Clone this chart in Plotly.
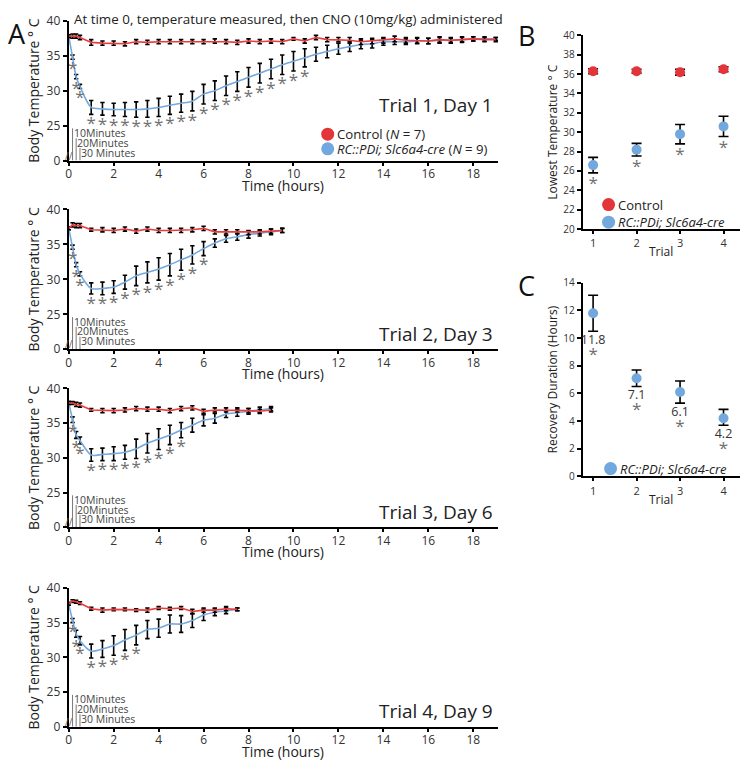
import plotly.graph_objects as go

W, H = 750, 768
FONT = "Open Sans"
RED = "#ec3b3b"
BLUE = "#74a9dc"
DOT_RED = "#e3343a"
DOT_BLUE = "#72a8dd"
AST = "#707070"

# ---------------- data: panel A (time courses) ----------------
t1 = [0, 0.17, 0.33, 0.5, 1, 1.5, 2, 2.5, 3, 3.5, 4, 4.5, 5, 5.5, 6, 6.5, 7, 7.5, 8, 8.5,
      9, 9.5, 10, 10.5, 11, 11.5, 12, 12.5, 13, 13.5, 14, 14.5, 15, 15.5, 16, 16.5, 17, 17.5,
      18, 18.5, 19]
ctrl1 = [37.8, 37.8, 37.8, 37.6, 36.9, 36.8, 36.8, 36.7, 37.0, 36.9, 37.0, 37.0, 37.0, 37.0,
         37.0, 37.1, 37.0, 36.9, 37.1, 37.0, 37.1, 37.0, 37.4, 37.1, 37.6, 37.3, 37.3, 37.2,
         37.0, 37.1, 37.2, 37.4, 37.2, 37.2, 37.1, 37.3, 37.2, 37.3, 37.4, 37.3, 37.3]
ctrl1_err = [0.2, 0.3, 0.3, 0.3, 0.4, 0.3, 0.3, 0.3, 0.3, 0.3, 0.3, 0.3, 0.3, 0.3, 0.3, 0.3,
             0.3, 0.3, 0.3, 0.3, 0.3, 0.3, 0.2, 0.3, 0.3, 0.3, 0.3, 0.4, 0.4, 0.4, 0.4, 0.4,
             0.4, 0.4, 0.4, 0.4, 0.4, 0.4, 0.3, 0.3, 0.3]
pdi1 = [37.8, 34.8, 32.0, 30.6, 27.6, 27.4, 27.3, 27.3, 27.3, 27.4, 27.6, 27.9, 28.2, 28.5,
        29.5, 30.0, 30.7, 31.3, 31.9, 32.5, 33.1, 33.7, 34.2, 34.7, 35.2, 35.6, 36.0, 36.3,
        36.6, 36.7, 37.0, 37.0, 37.0, 37.1, 37.1, 37.2, 37.2, 37.3, 37.4, 37.4, 37.4]
pdi1_err = [0.2, 0.3, 0.3, 0.3, 1.0, 0.9, 0.9, 1.0, 1.1, 1.2, 1.3, 1.3, 1.3, 1.4, 1.4, 1.4,
            1.4, 1.4, 1.4, 1.4, 1.4, 1.4, 1.4, 1.3, 1.0, 0.9, 0.8, 0.7, 0.6, 0.6, 0.5, 0.4,
            0.4, 0.4, 0.4, 0.4, 0.3, 0.3, 0.3, 0.3, 0.2]
sig1_last = 10.5

t2 = [0, 0.17, 0.33, 0.5, 1, 1.5, 2, 2.5, 3, 3.5, 4, 4.5, 5, 5.5, 6, 6.5, 7, 7.5, 8, 8.5,
      9, 9.5]
ctrl2 = [37.3, 37.8, 37.7, 37.7, 37.1, 37.1, 37.0, 37.2, 36.9, 37.2, 37.0, 37.0, 37.0, 37.1,
         37.3, 36.8, 36.8, 36.8, 36.7, 36.8, 36.9, 37.0]
ctrl2_err = [0.2, 0.3, 0.3, 0.3, 0.2, 0.3, 0.3, 0.3, 0.3, 0.3, 0.3, 0.3, 0.3, 0.3, 0.3, 0.3,
             0.3, 0.3, 0.3, 0.3, 0.3, 0.3]
pdi2 = [37.3, 34.6, 32.1, 30.8, 28.7, 28.7, 28.9, 29.6, 30.5, 31.0, 31.5, 32.1, 32.8, 33.5,
        34.4, 35.2, 35.8, 36.1, 36.4, 36.6, 36.8, 37.0]
pdi2_err = [0.2, 0.3, 0.3, 0.3, 0.8, 0.9, 0.9, 1.0, 1.4, 1.5, 1.6, 1.6, 1.5, 1.3, 1.0, 0.6,
            0.5, 0.5, 0.5, 0.4, 0.4, 0.3]
sig2_last = 6.0

t3 = [0, 0.17, 0.33, 0.5, 1, 1.5, 2, 2.5, 3, 3.5, 4, 4.5, 5, 5.5, 6, 6.5, 7, 7.5, 8, 8.5, 9]
ctrl3 = [37.9, 37.9, 37.7, 37.6, 36.9, 36.8, 36.8, 36.9, 37.1, 37.0, 37.0, 36.8, 37.1, 37.2,
         36.7, 36.9, 36.9, 36.9, 36.8, 36.7, 36.9]
ctrl3_err = [0.2, 0.2, 0.3, 0.3, 0.2, 0.3, 0.3, 0.3, 0.3, 0.3, 0.3, 0.3, 0.3, 0.3, 0.3, 0.3,
             0.3, 0.3, 0.3, 0.3, 0.3]
pdi3 = [37.9, 35.5, 33.3, 32.5, 30.4, 30.5, 30.6, 30.8, 31.3, 32.1, 32.7, 33.3, 34.0, 34.7,
        35.4, 35.7, 36.3, 36.5, 36.7, 36.9, 37.1]
pdi3_err = [0.2, 0.4, 0.5, 0.5, 0.9, 0.9, 1.0, 1.0, 1.4, 1.4, 1.5, 1.4, 1.1, 1.0, 0.8, 0.7,
            0.5, 0.5, 0.4, 0.4, 0.3]
sig3_last = 5.0

t4 = [0, 0.17, 0.33, 0.5, 1, 1.5, 2, 2.5, 3, 3.5, 4, 4.5, 5, 5.5, 6, 6.5, 7, 7.5]
ctrl4 = [37.7, 38.1, 38.0, 37.8, 37.0, 36.8, 36.9, 36.9, 36.8, 36.8, 37.1, 37.0, 37.1, 36.6,
         36.8, 36.8, 37.0, 36.9]
ctrl4_err = [0.2, 0.2, 0.2, 0.2, 0.2, 0.3, 0.2, 0.2, 0.2, 0.3, 0.2, 0.2, 0.2, 0.3, 0.3, 0.3,
             0.3, 0.2]
pdi4 = [37.7, 35.3, 33.4, 32.4, 30.9, 31.2, 31.7, 32.5, 33.2, 34.0, 34.2, 34.8, 34.8, 35.3,
        36.1, 36.5, 36.7, 36.9]
pdi4_err = [0.2, 0.3, 0.5, 0.6, 1.0, 1.2, 1.4, 1.5, 1.4, 1.3, 1.3, 1.3, 1.2, 1.0, 0.8, 0.5,
            0.4, 0.2]
sig4_last = 3.0

trial_labels = ["Trial 1, Day 1", "Trial 2, Day 3", "Trial 3, Day 6", "Trial 4, Day 9"]
time_ticks = [0, 2, 4, 6, 8, 10, 12, 14, 16, 18]
temp_tickvals = [20, 25, 30, 35, 40]
temp_ticktext = ["0", "25", "30", "35", "40"]
minute_labels = ["10Minutes", "20Minutes", "30 Minutes"]

# ---------------- data: panel B (lowest temperature) ----------------
trials = [1, 2, 3, 4]
ctrl_low = [36.3, 36.3, 36.2, 36.5]
ctrl_low_err = [0.25, 0.2, 0.3, 0.25]
pdi_low = [26.6, 28.2, 29.8, 30.6]
pdi_low_err = [0.8, 0.65, 1.0, 1.05]

# ---------------- data: panel C (recovery duration) ----------------
recovery = [11.8, 7.1, 6.1, 4.2]
recovery_err_plus = [1.3, 0.6, 0.8, 0.65]
recovery_err_minus = [1.3, 0.6, 0.8, 0.5]

# ---------------- helpers ----------------
def xdom(a, b):
    return [a / W, b / W]

def ydom(top, bottom):
    return [1 - bottom / H, 1 - top / H]

def px(x):
    return x / W

def py(y):
    return 1 - y / H

axis_common = dict(showline=True, linecolor="black", linewidth=2, ticks="outside",
                   ticklen=4, tickwidth=1.5, tickcolor="black", showgrid=False,
                   zeroline=False, tickfont=dict(family=FONT, size=12, color="#333"))

A_X = (66, 497)
A_RANGE = [0, 19.1]
A_Y = [(12, 155), (205, 348), (388, 530), (592, 734)]
B_X = (582, 740)
BC_RANGE = [0.76, 4.38]
B_Y = (27, 225)
C_Y = (280, 478)

fig = go.Figure()
layout = dict(width=W, height=H, margin=dict(l=0, r=0, t=0, b=0), autosize=False,
              paper_bgcolor="white", plot_bgcolor="white", showlegend=False,
              font=dict(family=FONT, color="#222"))
annotations = []
shapes = []

def add_text(x, y, text, size, color="#222", xanchor="center", yanchor="middle", **kw):
    annotations.append(dict(xref="paper", yref="paper", x=px(x), y=py(y), text=text,
                            showarrow=False, xanchor=xanchor, yanchor=yanchor,
                            font=dict(family=FONT, size=size, color=color), **kw))

series = [
    (t1, ctrl1, ctrl1_err, pdi1, pdi1_err, sig1_last),
    (t2, ctrl2, ctrl2_err, pdi2, pdi2_err, sig2_last),
    (t3, ctrl3, ctrl3_err, pdi3, pdi3_err, sig3_last),
    (t4, ctrl4, ctrl4_err, pdi4, pdi4_err, sig4_last),
]

for i, (t, c, ce, p, pe, sig) in enumerate(series, start=1):
    xa = "x" if i == 1 else f"x{i}"
    ya = "y" if i == 1 else f"y{i}"
    top, bottom = A_Y[i - 1]
    layout["xaxis" if i == 1 else f"xaxis{i}"] = dict(
        axis_common, domain=xdom(*A_X), range=A_RANGE, tickvals=time_ticks,
        anchor=ya, ticklen=3, ticklabelstandoff=-2)
    layout["yaxis" if i == 1 else f"yaxis{i}"] = dict(
        axis_common, domain=ydom(top, bottom), range=[20, 40], tickvals=temp_tickvals,
        ticktext=temp_ticktext, anchor=xa,
        title=dict(text="Body Temperature \u00b0 C", standoff=4,
                   font=dict(family=FONT, size=14, color="#222")))
    add_text((A_X[0] + A_X[1]) / 2, bottom + 25, "Time (hours)", 14)
    fig.add_trace(go.Scatter(
        x=t, y=p, mode="lines", xaxis=xa, yaxis=ya,
        line=dict(color=BLUE, width=1.6, shape="spline", smoothing=0.8),
        error_y=dict(type="data", array=pe, color="black", thickness=1.6, width=2.2)))
    fig.add_trace(go.Scatter(
        x=t, y=c, mode="lines", xaxis=xa, yaxis=ya,
        line=dict(color=RED, width=1.6),
        error_y=dict(type="data", array=ce, color="black", thickness=1.6, width=2.2)))
    sx = [tt for tt in t if 0 < tt <= sig]
    sy = [m - e - 1.5 for tt, m, e in zip(t, p, pe) if 0 < tt <= sig]
    fig.add_trace(go.Scatter(
        x=sx, y=sy, mode="text", text=["*"] * len(sx), xaxis=xa, yaxis=ya,
        cliponaxis=False, textposition="middle center",
        textfont=dict(family=FONT, size=17, color=AST)))
    # minute markers
    for k, lab in enumerate(minute_labels):
        tt = t[k + 1]
        ytop = 24.6 - 1.4 * k
        shapes.append(dict(type="line", xref=xa, yref=ya, x0=tt, x1=tt, y0=20, y1=ytop,
                           line=dict(color="#555", width=0.8)))
        annotations.append(dict(xref=xa, yref=ya, x=tt, y=ytop - 0.65, text=lab,
                                xanchor="left", yanchor="middle", xshift=0, showarrow=False,
                                borderpad=0, font=dict(family=FONT, size=10.5, color="#444")))
    # axis break mark
    add_text(A_X[0], bottom - 5, "//", 10, color="#666")
    # trial label
    ylab = 98 if i == 1 else bottom - 16
    add_text(A_X[1] - 3, ylab, trial_labels[i - 1], 19, xanchor="right")

# ---------------- panel B ----------------
layout["xaxis5"] = dict(axis_common, domain=xdom(*B_X), range=BC_RANGE, tickvals=trials,
                        anchor="y5", ticklen=3,
                        tickfont=dict(family=FONT, size=11, color="#333"))
layout["yaxis5"] = dict(axis_common, domain=ydom(*B_Y), range=[20, 40], dtick=2,
                        anchor="x5", tickfont=dict(family=FONT, size=10, color="#333"),
                        title=dict(text="Lowest Temperature \u00b0 C", standoff=3,
                                   font=dict(family=FONT, size=12, color="#222")))
add_text((B_X[0] + B_X[1]) / 2, B_Y[1] + 23, "Trial", 12)
fig.add_trace(go.Scatter(x=trials, y=ctrl_low, mode="markers", xaxis="x5", yaxis="y5",
                         marker=dict(color=DOT_RED, size=10),
                         error_y=dict(type="data", array=ctrl_low_err, color="black",
                                      thickness=1.6, width=5)))
fig.add_trace(go.Scatter(x=trials, y=pdi_low, mode="markers", xaxis="x5", yaxis="y5",
                         marker=dict(color=DOT_BLUE, size=10),
                         error_y=dict(type="data", array=pdi_low_err, color="black",
                                      thickness=1.6, width=5)))
fig.add_trace(go.Scatter(x=trials, y=[m - e - 1.25 for m, e in zip(pdi_low, pdi_low_err)],
                         mode="text", text=["*"] * 4, xaxis="x5", yaxis="y5",
                         cliponaxis=False, textfont=dict(family=FONT, size=17, color=AST)))

# ---------------- panel C ----------------
layout["xaxis6"] = dict(axis_common, domain=xdom(*B_X), range=BC_RANGE, tickvals=trials,
                        anchor="y6", ticklen=3,
                        tickfont=dict(family=FONT, size=11, color="#333"))
layout["yaxis6"] = dict(axis_common, domain=ydom(*C_Y), range=[0, 14], dtick=2,
                        anchor="x6", layer="below traces",
                        tickfont=dict(family=FONT, size=10, color="#333"),
                        title=dict(text="Recovery Duration (Hours)", standoff=3,
                                   font=dict(family=FONT, size=12, color="#222")))
add_text((B_X[0] + B_X[1]) / 2, C_Y[1] + 24, "Trial", 12)
fig.add_trace(go.Scatter(x=trials, y=recovery, mode="markers", xaxis="x6", yaxis="y6",
                         marker=dict(color=DOT_BLUE, size=10),
                         error_y=dict(type="data", symmetric=False, array=recovery_err_plus,
                                      arrayminus=recovery_err_minus, color="black",
                                      thickness=1.6, width=5)))
rec_lo = [m - e for m, e in zip(recovery, recovery_err_minus)]
fig.add_trace(go.Scatter(x=trials, y=[lo - 0.7 for lo in rec_lo], mode="text",
                         text=[f"{v:.1f}" for v in recovery], xaxis="x6", yaxis="y6",
                         cliponaxis=False,
                         textfont=dict(family=FONT, size=12.5, color="#333")))
fig.add_trace(go.Scatter(x=trials, y=[lo - 1.75 for lo in rec_lo], mode="text",
                         text=["*"] * 4, xaxis="x6", yaxis="y6", cliponaxis=False,
                         textfont=dict(family=FONT, size=17, color=AST)))

# ---------------- legends (manual) ----------------
def legend_item(xc, yc, color, label, size=13, r=6.5):
    shapes.append(dict(type="circle", xref="paper", yref="paper", xsizemode="pixel",
                       ysizemode="pixel", xanchor=px(xc), yanchor=py(yc), x0=-r, x1=r,
                       y0=-r, y1=r, fillcolor=color, line=dict(width=0)))
    add_text(xc + r + 0.5, yc, label, size, xanchor="left")

legend_item(326, 128, DOT_RED, "Control (<i>N</i> = 7)", 13.2)
legend_item(326, 143, DOT_BLUE, "<i>RC::PDi; Slc6a4-cre</i> (<i>N</i> = 9)", 13.2)
legend_item(608, 200, DOT_RED, "Control")
legend_item(608, 218, DOT_BLUE, "<i>RC::PDi; Slc6a4-cre</i>")
legend_item(610, 470, DOT_BLUE, "<i>RC::PDi; Slc6a4-cre</i>")

# ---------------- title and panel letters ----------------
add_text(69, 10, "At time 0, temperature measured, then CNO (10mg/kg) administered", 13.4,
         xanchor="left")
for letter, (lx, ly) in zip(["A", "B", "C"], [(14, 25), (526, 27), (526, 283)]):
    add_text(lx, ly, letter, 27, color="#111")

layout["annotations"] = annotations
layout["shapes"] = shapes
fig.update_layout(**layout)
fig.write_html("out.html", config={"displayModeBar": False},
               post_script="document.body.style.margin='0';document.body.style.overflow='hidden';")
